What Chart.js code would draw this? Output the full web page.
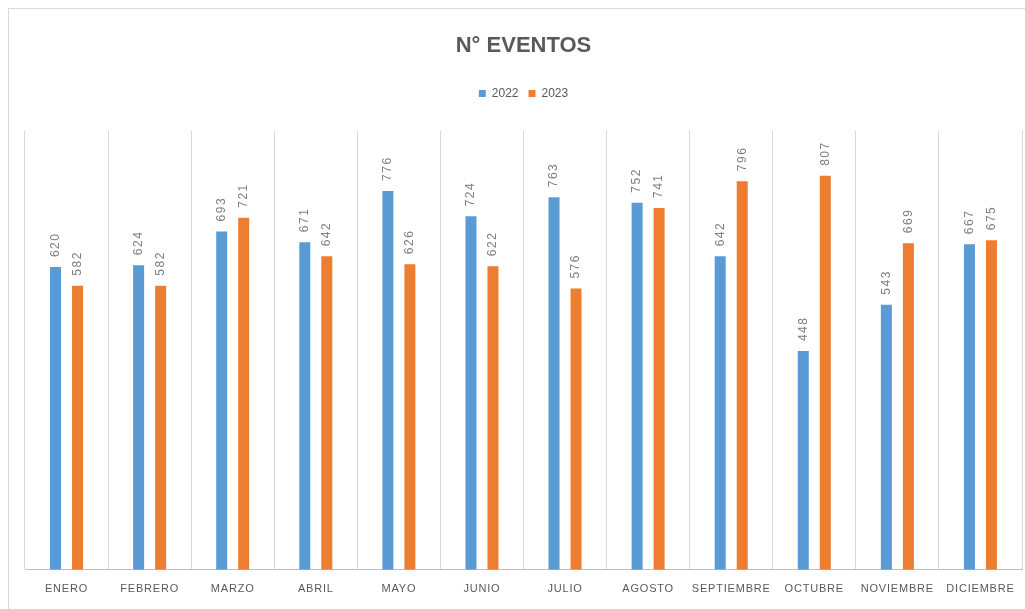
<!DOCTYPE html>
<html>
<head>
<meta charset="utf-8">
<script src="https://cdn.jsdelivr.net/npm/chart.js@4/dist/chart.umd.min.js"></script>
<style>
	body { margin: 0; background: #fff; }
	#wrap { position: relative; width: 1025px; height: 609px; }
	#frame { position: absolute; left: 8px; top: 8px; right: 0; bottom: 0; border-left: 1px solid #d9d9d9; border-top: 1px solid #d9d9d9; pointer-events: none; }
</style>
</head>
<body>
<div id="wrap">
	<canvas id="mycanvas" width="1025" height="609"></canvas>
	<div id="frame"></div>
</div>
<script>
var meses = ['ENERO', 'FEBRERO', 'MARZO', 'ABRIL', 'MAYO', 'JUNIO', 'JULIO', 'AGOSTO', 'SEPTIEMBRE', 'OCTUBRE', 'NOVIEMBRE', 'DICIEMBRE'];
var eventos2022 = [620, 624, 693, 671, 776, 724, 763, 752, 642, 448, 543, 667];
var eventos2023 = [582, 582, 721, 642, 626, 622, 576, 741, 796, 807, 669, 675];

// numbers drawn vertically above each bar
var barLabels = {
	id: 'barLabels',
	afterDatasetsDraw: function(chart) {
		var ctx = chart.ctx;
		chart.data.datasets.forEach(function(ds, i) {
			var meta = chart.getDatasetMeta(i);
			meta.data.forEach(function(bar, j) {
				ctx.save();
				ctx.font = '12px "Liberation Sans", sans-serif';
				ctx.letterSpacing = '1.5px';
				ctx.fillStyle = '#7f7f7f';
				ctx.textAlign = 'left';
				ctx.textBaseline = 'middle';
				ctx.translate(bar.x, bar.y - 10);
				ctx.rotate(-Math.PI / 2);
				ctx.fillText(ds.data[j], 0, 0);
				ctx.restore();
			});
		});
	}
};

// extra room under the legend + spaced month labels
var tweaks = {
	id: 'tweaks',
	beforeInit: function(chart) {
		var fit = chart.legend.fit;
		chart.legend.fit = function() {
			fit.call(this);
			this.height += 21;
		};
	},
	beforeDraw: function(chart) {
		var s = chart.scales.x;
		if (!s._spaced) {
			var orig = s.drawLabels;
			s.drawLabels = function(area) {
				chart.ctx.save();
				chart.ctx.letterSpacing = '0.8px';
				orig.call(s, area);
				chart.ctx.restore();
			};
			s._spaced = true;
		}
	}
};

var ctx = document.getElementById('mycanvas');

var barGraph = new Chart(ctx, {
	type: 'bar',
	data: {
		labels: meses,
		datasets: [
			{ label: '2022', data: eventos2022, backgroundColor: '#5b9bd5' },
			{ label: '2023', data: eventos2023, backgroundColor: '#ed7d31' }
		]
	},
	options: {
		responsive: false,
		animation: false,
		layout: { padding: { top: 8, left: 25, right: 3, bottom: 0 } },
		datasets: { bar: { categoryPercentage: 0.53, barPercentage: 0.5 } },
		plugins: {
			title: {
				display: true,
				text: 'N° EVENTOS',
				color: '#595959',
				font: { family: '"Liberation Sans", sans-serif', size: 22, weight: 'bold' },
				padding: { top: 25, bottom: 18 }
			},
			legend: {
				labels: {
					color: '#595959',
					font: { family: '"Liberation Sans", sans-serif', size: 12 },
					boxWidth: 7,
					boxHeight: 7,
					padding: 10
				}
			},
			tooltip: { enabled: false }
		},
		scales: {
			x: {
				grid: { color: '#d9d9d9', drawTicks: false },
				border: { color: '#bfbfbf' },
				ticks: {
					color: '#595959',
					padding: 13,
					autoSkip: false,
					maxRotation: 0,
					font: { family: '"Liberation Sans", sans-serif', size: 11 }
				}
			},
			y: {
				display: false,
				min: 0,
				max: 900
			}
		}
	},
	plugins: [barLabels, tweaks]
});
</script>
</body>
</html>
